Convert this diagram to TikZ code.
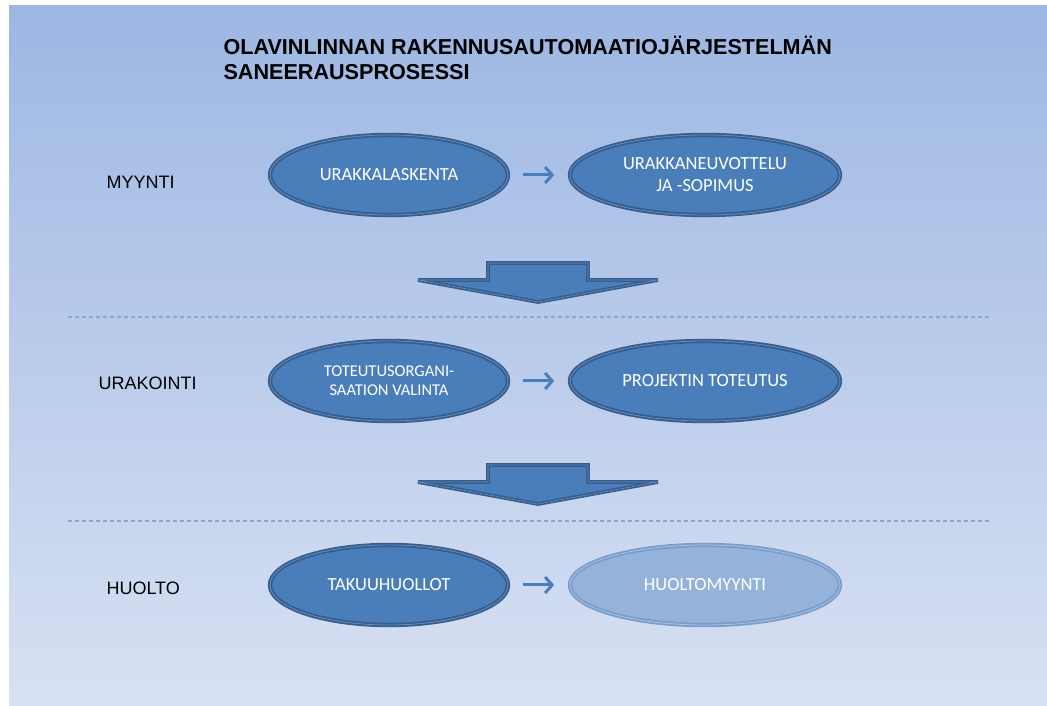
\documentclass[tikz,border=0pt]{standalone}
\usepackage{fontspec}
\setmainfont{Liberation Sans}
\newfontfamily\carlito{Carlito}
\usetikzlibrary{shapes.geometric, arrows.meta}

\definecolor{bgtop}{HTML}{9DB7E3}
\definecolor{bgbottom}{HTML}{D8E1F3}
\definecolor{phasefill}{HTML}{4A7EBB}
\definecolor{phaseline}{HTML}{385D8A}
\definecolor{phasemid}{HTML}{5F8CC6}
\definecolor{lightfill}{HTML}{94B2DA}
\definecolor{lightline}{HTML}{7B9DCC}
\definecolor{lightmid}{HTML}{A6C0E2}
\definecolor{dashblue}{HTML}{8AA6D6}

\begin{document}
\begin{tikzpicture}[x=1pt, y=1pt,
    phase/.style={ellipse, minimum height=80pt, inner sep=0pt, align=center,
        fill=phasefill, draw=phaseline, line width=1.8pt,
        double=phasemid, double distance=0.8pt, text=white,
        font=\carlito\fontsize{18.5}{22}\selectfont},
    phaselight/.style={phase, fill=lightfill, draw=lightline, double=lightmid},
    rowlabel/.style={anchor=west, font=\fontsize{18}{20}\selectfont},
    smallarrow/.style={draw=phasefill, line width=3pt,
        -{Straight Barb[length=7pt, width=16pt]}, shorten <=14pt, shorten >=15pt},
    bigarrow/.style={fill=phasefill, draw=phaseline, line width=1.6pt,
        double=phasemid, double distance=0.6pt, line join=miter},
    separator/.style={draw=dashblue, line width=1.3pt, dash pattern=on 4pt off 3pt}]

    % Background
    \useasboundingbox (0,0) rectangle (1047,706);
    \shade[top color=bgtop, bottom color=bgbottom] (9,0) rectangle (1047,700);

    % Title
    \node[anchor=west, align=left, font=\bfseries\fontsize{21.6}{25}\selectfont]
        (title) at (220,648.5) {OLAVINLINNAN RAKENNUSAUTOMAATIOJÄRJESTELMÄN\\SANEERAUSPROSESSI};

    % Row labels
    \node[rowlabel] (myynti) at (103,524) {MYYNTI};
    \node[rowlabel] (urakointi) at (95,323) {URAKOINTI};
    \node[rowlabel] (huolto) at (103,118) {HUOLTO};

    % Phases
    \node[phase, minimum width=238pt] (laskenta) at (389,531) {URAKKALASKENTA};
    \node[phase, minimum width=270pt] (neuvottelu) at (705,531) {URAKKANEUVOTTELU\\JA -SOPIMUS};
    \node[phase, minimum width=238pt, font=\carlito\fontsize{16.5}{19}\selectfont]
        (valinta) at (389,325) {TOTEUTUSORGANI-\\SAATION VALINTA};
    \node[phase, minimum width=270pt] (toteutus) at (705,325) {PROJEKTIN TOTEUTUS};
    \node[phase, minimum width=238pt] (takuu) at (389,121) {TAKUUHUOLLOT};
    \node[phaselight, minimum width=270pt] (huoltomyynti) at (705,121) {HUOLTOMYYNTI};

    % Arrows within a row
    \draw[smallarrow] (laskenta) -- (neuvottelu);
    \draw[smallarrow] (valinta) -- (toteutus);
    \draw[smallarrow] (takuu) -- (huoltomyynti);

    % Arrows between rows
    \foreach \ytop in {443, 241}
        \draw[bigarrow] (488,\ytop) -- (588,\ytop) -- (588,\ytop-17) -- (658,\ytop-17)
            -- (538,\ytop-39) -- (418,\ytop-17) -- (488,\ytop-17) -- cycle;

    % Row separators
    \draw[separator] (68,389) -- (990,389);
    \draw[separator] (68,185) -- (990,185);
\end{tikzpicture}
\end{document}
